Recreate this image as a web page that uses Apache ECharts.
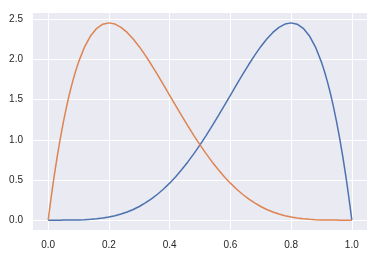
<!DOCTYPE html>
<html><head><meta charset="utf-8">
<script src="https://cdn.jsdelivr.net/npm/echarts@6/dist/echarts.min.js"></script>
<style>html,body{margin:0;padding:0;background:#fff}#c{width:380px;height:257px}</style>
</head><body><div id="c"></div>
<script>
var xs = [0,0.005,0.01,0.015,0.02,0.03,0.04,0.05,0.06,0.07,0.08,0.09,0.10,0.12,0.14,0.16,0.18,0.20,0.22,0.24,0.26,0.28,0.30,0.32,0.34,0.36,0.38,0.40,0.42,0.44,0.46,0.48,0.50,0.52,0.54,0.56,0.58,0.60,0.62,0.64,0.66,0.68,0.70,0.72,0.74,0.76,0.78,0.80,0.82,0.84,0.86,0.88,0.90,0.91,0.92,0.93,0.94,0.95,0.96,0.97,0.98,0.985,0.99,0.995,1.00];
var blueVals = [0,0,0,0,0.0000,0.0000,0.0001,0.0002,0.0004,0.0007,0.0011,0.0018,0.0027,0.0055,0.0099,0.0165,0.0258,0.0384,0.0548,0.0756,0.1014,0.1328,0.1701,0.2139,0.2646,0.3225,0.3878,0.4608,0.5414,0.6297,0.7253,0.8281,0.9375,1.0529,1.1734,1.2982,1.4259,1.5552,1.6845,1.8119,1.9354,2.0526,2.1609,2.2574,2.3390,2.4021,2.4430,2.4576,2.4415,2.3898,2.2974,2.1589,1.9683,1.8515,1.7193,1.5709,1.4053,1.2218,1.0192,0.7968,0.5534,0.4236,0.2882,0.1470,0];
var orangeVals = [0,0.1470,0.2882,0.4236,0.5534,0.7968,1.0192,1.2218,1.4053,1.5709,1.7193,1.8515,1.9683,2.1589,2.2974,2.3898,2.4415,2.4576,2.4430,2.4021,2.3390,2.2574,2.1609,2.0526,1.9354,1.8119,1.6845,1.5552,1.4259,1.2982,1.1734,1.0529,0.9375,0.8281,0.7253,0.6297,0.5414,0.4608,0.3878,0.3225,0.2646,0.2139,0.1701,0.1328,0.1014,0.0756,0.0548,0.0384,0.0258,0.0165,0.0099,0.0055,0.0027,0.0018,0.0011,0.0007,0.0004,0.0002,0.0001,0.0000,0.0000,0,0,0,0];
var xTicks = [0, 0.2, 0.4, 0.6, 0.8, 1.0];
var yTicks = [0, 0.5, 1.0, 1.5, 2.0, 2.5];

function pairs(v){ return xs.map(function(x,i){ return [x, v[i]]; }); }
var chart = echarts.init(document.getElementById('c'), null, {renderer:'canvas'});
var labelStyle = {color:'#262626', fontSize:10, fontFamily:'Liberation Sans, Arial, sans-serif'};
chart.setOption({
  animation:false,
  grid:{left:33,right:13,top:13,bottom:27,show:true,backgroundColor:'#EAEAF2',borderWidth:0},
  xAxis:{type:'value',min:-0.05,max:1.05,
    axisLine:{show:false},
    axisTick:{show:false,customValues:xTicks},
    axisLabel:Object.assign({customValues:xTicks,margin:10,formatter:function(v){return v.toFixed(1);}},labelStyle),
    splitLine:{show:true,lineStyle:{color:'#ffffff',width:1}}},
  yAxis:{type:'value',min:-0.1229,max:2.5805,
    axisLine:{show:false},
    axisTick:{show:false,customValues:yTicks},
    axisLabel:Object.assign({customValues:yTicks,margin:10,formatter:function(v){return v.toFixed(1);}},labelStyle),
    splitLine:{show:true,lineStyle:{color:'#ffffff',width:1}}},
  series:[
    {type:'line',data:pairs(blueVals),showSymbol:false,lineStyle:{color:'#4C72B0',width:1.5},itemStyle:{color:'#4C72B0'}},
    {type:'line',data:pairs(orangeVals),showSymbol:false,lineStyle:{color:'#DD8452',width:1.5},itemStyle:{color:'#DD8452'}}
  ]
});
</script></body></html>
